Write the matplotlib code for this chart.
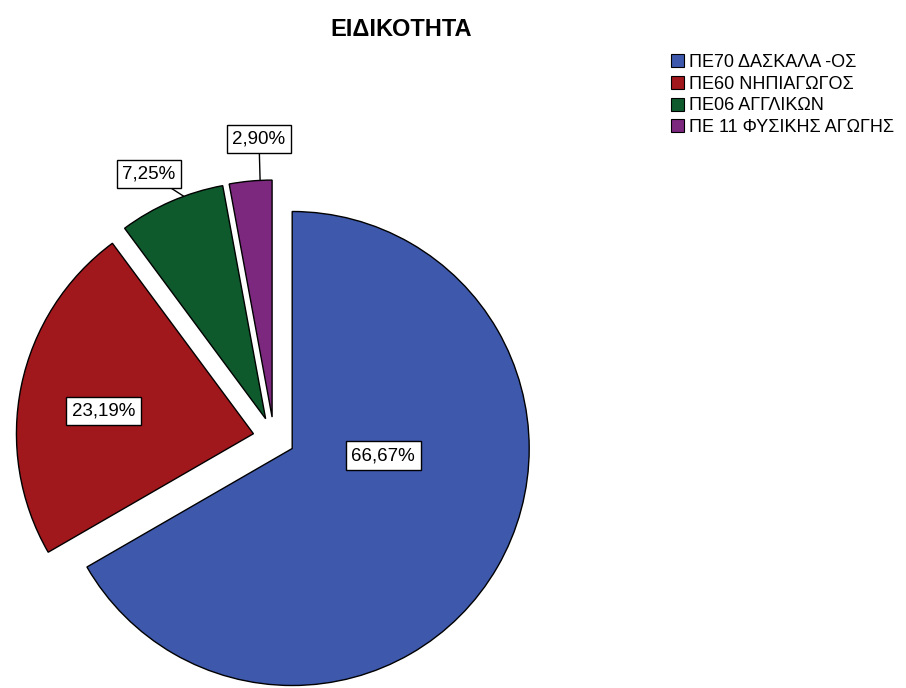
import numpy as np
import matplotlib
matplotlib.use("Agg")
import matplotlib.pyplot as plt
from matplotlib.patches import Patch

plt.rcParams['font.family'] = ['Liberation Sans', 'DejaVu Sans']

title = "ΕΙΔΙΚΟΤΗΤΑ"
categories = ["ΠΕ70 ΔΑΣΚΑΛΑ -ΟΣ", "ΠΕ60 ΝΗΠΙΑΓΩΓΟΣ", "ΠΕ06 ΑΓΓΛΙΚΩΝ", "ΠΕ 11 ΦΥΣΙΚΗΣ ΑΓΩΓΗΣ"]
counts = [46, 16, 5, 2]
colors = ["#3E58AC", "#A0171C", "#0E5A2D", "#7B287E"]

W, H = 906, 688
fig = plt.figure(figsize=(W / 100, H / 100), dpi=100)
ax = fig.add_axes([0, 0, 1, 1])

cx, cy, R = 274, H - 438, 237
gap = 21  # offset of every slice from the centre, in pixels
wedges, _ = ax.pie(counts, colors=colors, startangle=90, counterclock=False,
                   center=(cx, cy), radius=R, explode=[gap] * len(counts),
                   wedgeprops=dict(edgecolor='black', linewidth=1.0))

ax.set_xlim(0, W)
ax.set_ylim(0, H)
ax.set_aspect('equal')
ax.axis('off')

total = sum(counts)
pct = [f"{100 * c / total:.2f}".replace('.', ',') + '%' for c in counts]

box = dict(boxstyle='square,pad=0.3', fc='white', ec='black', lw=1.0)

def polar(w, ang, frac):
    a = np.deg2rad(ang)
    return np.array(w.center) + frac * R * np.array([np.cos(a), np.sin(a)])

# labels inside the two large slices
for i, (ang, frac) in zip([0, 1], [(-4.4, 0.385), (171.5, 0.64)]):
    x, y = polar(wedges[i], ang, frac)
    ax.text(x, y, pct[i], ha='center', va='center', fontsize=13.5, bbox=box)

# labels outside the two small slices, with leader lines
for i, (ang, frac, arc_ang) in zip([2, 3], [(115.5, 1.145, 110.2), (92.7, 1.175, 92.9)]):
    tx, ty = polar(wedges[i], ang, frac)
    px, py = polar(wedges[i], arc_ang, 1.0)
    ax.annotate(pct[i], xy=(px, py), xytext=(tx, ty), ha='center', va='center',
                fontsize=13.5, bbox=box,
                arrowprops=dict(arrowstyle='-', color='black', lw=1.0,
                                shrinkA=0, shrinkB=0))

fig.text(401 / W, 1 - 30 / H, title, ha='center', va='center',
         fontsize=17, fontweight='bold')

handles = [Patch(facecolor=c, edgecolor='black', lw=0.8) for c in colors]
fig.legend(handles, categories, loc='upper left', bbox_to_anchor=(671 / W, 1 - 54 / H),
           frameon=False, fontsize=13, handlelength=0.72, handleheight=0.72,
           handletextpad=0.3, labelspacing=0.26, borderaxespad=0, borderpad=0)

fig.savefig("out.png", dpi=100)
